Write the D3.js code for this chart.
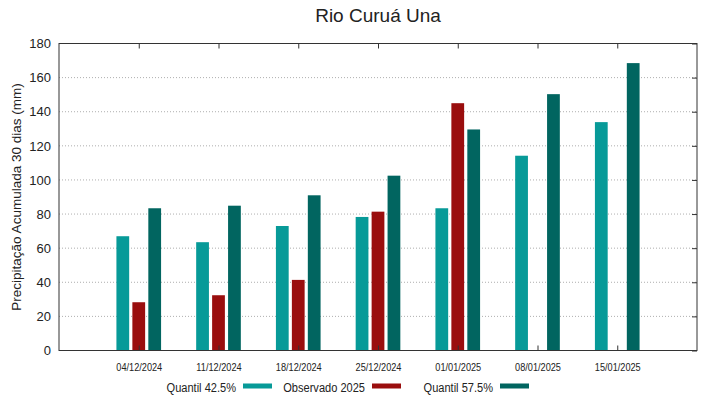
<!DOCTYPE html>
<html>
<head>
<meta charset="utf-8">
<script src="https://cdn.jsdelivr.net/npm/d3@7"></script>
<style>
  body { margin: 0; background: #fff; }
  text { font-family: "Liberation Sans", Arial, sans-serif; fill: #222; }
</style>
</head>
<body>
<div id="chart"></div>
<script>
const dates = ['04/12/2024', '11/12/2024', '18/12/2024', '25/12/2024', '01/01/2025', '08/01/2025', '15/01/2025'];
const q425 = [67, 63.5, 73, 78.3, 83.4, 114.2, 133.9];
const obs2025 = [28.3, 32.4, 41.4, 81.4, 145, null, null];
const q575 = [83.4, 84.9, 91, 102.5, 129.6, 150.3, 168.5];
const yTicks = [0, 20, 40, 60, 80, 100, 120, 140, 160, 180];

const series = [
  { name: 'Quantil 42.5%', values: q425, color: '#079a98', off: -0.2 },
  { name: 'Observado 2025', values: obs2025, color: '#9a0e0e', off: 0 },
  { name: 'Quantil 57.5%', values: q575, color: '#016560', off: 0.2 }
];

const width = 719, height = 399;
const margin = { top: 43.5, right: 22, bottom: 48.5, left: 59 };
const w = width - margin.left - margin.right;
const h = height - margin.top - margin.bottom;
const squeeze = 0.82; // narrow-looking text in legend and date labels

const svg = d3.select('#chart').append('svg')
  .attr('width', width)
  .attr('height', height);

const g = svg.append('g')
  .attr('transform', 'translate(' + margin.left + ',' + margin.top + ')');

const x = d3.scaleLinear().domain([-1, 7]).range([0, w]);
const y = d3.scaleLinear().domain([0, 180]).range([h, 0]);
const barW = 0.16;

// grid
g.append('g')
  .selectAll('line')
  .data(yTicks.slice(1, -1))
  .join('line')
  .attr('x1', 0).attr('x2', w)
  .attr('y1', d => y(d)).attr('y2', d => y(d))
  .attr('stroke', '#999')
  .attr('stroke-width', 0.8)
  .attr('stroke-dasharray', '1,2');

// bars
series.forEach(s => {
  g.append('g')
    .selectAll('rect')
    .data(s.values.map((v, i) => ({ v: v, i: i })).filter(d => d.v != null))
    .join('rect')
    .attr('x', d => x(d.i + s.off - barW / 2))
    .attr('width', x(barW) - x(0))
    .attr('y', d => y(d.v))
    .attr('height', d => h - y(d.v))
    .attr('fill', s.color);
});

// axes
const yAxis = g.append('g')
  .call(d3.axisLeft(y).tickValues(yTicks).tickSize(0).tickPadding(8));
yAxis.select('.domain').remove();
yAxis.selectAll('text').attr('font-size', 13).attr('fill', '#222');

const yAxisR = g.append('g')
  .attr('transform', 'translate(' + w + ',0)')
  .call(d3.axisLeft(y).tickValues(yTicks).tickSize(5).tickFormat(''));
yAxisR.select('.domain').remove();
yAxisR.selectAll('line').attr('stroke', '#333');

const xAxis = g.append('g')
  .attr('transform', 'translate(0,' + h + ')')
  .call(d3.axisBottom(x).tickValues(d3.range(dates.length)).tickSize(-5).tickPadding(12.5)
    .tickFormat(i => dates[i]));
xAxis.select('.domain').remove();
xAxis.selectAll('line').attr('stroke', '#333');
xAxis.selectAll('text')
  .attr('font-size', 11.2)
  .attr('fill', '#222')
  .attr('transform', 'scale(' + squeeze + ',1)');

const xAxisT = g.append('g')
  .call(d3.axisTop(x).tickValues(d3.range(dates.length)).tickSize(-5).tickFormat(''));
xAxisT.select('.domain').remove();
xAxisT.selectAll('line').attr('stroke', '#333');

// frame
g.append('rect')
  .attr('width', w).attr('height', h)
  .attr('fill', 'none')
  .attr('stroke', '#333')
  .attr('stroke-width', 1);

// title
svg.append('text')
  .attr('x', margin.left + w / 2)
  .attr('y', 22)
  .attr('text-anchor', 'middle')
  .attr('font-size', 19)
  .text('Rio Curuá Una');

// y label
svg.append('text')
  .attr('transform', 'translate(21,' + (margin.top + h / 2) + ') rotate(-90)')
  .attr('text-anchor', 'middle')
  .attr('font-size', 13.5)
  .text('Precipitação Acumulada 30 dias (mm)');

// legend
const legX = [236, 365, 493];
series.forEach((s, i) => {
  const item = svg.append('g')
    .attr('transform', 'translate(' + legX[i] + ',391.5)');
  item.append('text')
    .attr('transform', 'scale(' + squeeze + ',1)')
    .attr('text-anchor', 'end')
    .attr('font-size', 13.5)
    .text(s.name);
  item.append('rect')
    .attr('x', 7)
    .attr('y', -8)
    .attr('width', 29)
    .attr('height', 5)
    .attr('fill', s.color);
});
</script>
</body>
</html>
